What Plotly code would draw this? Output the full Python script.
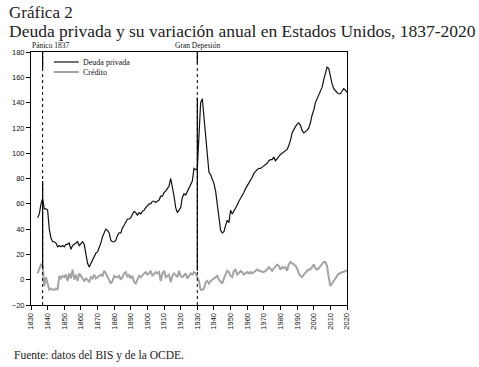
import plotly.graph_objects as go

years = list(range(1834, 2021))

deuda_privada = [
    49, 52, 60, 64, 56, 56, 55, 40, 33, 30,   # 1834-1843
    30, 29, 26, 27, 26, 27, 26, 28, 28, 29,   # 1844-1853
    24, 27, 28, 29, 30, 27, 29, 30, 28, 20,   # 1854-1863
    13, 10, 13, 16, 19, 21, 22, 25, 29, 34,   # 1864-1873
    37, 40, 39, 37, 31, 30, 30, 31, 35, 37,   # 1874-1883
    37, 41, 43, 45, 48, 48, 49, 52, 54, 53,   # 1884-1893
    51, 53, 52, 54, 55, 57, 59, 60, 60, 62,   # 1894-1903
    62, 61, 62, 63, 66, 66, 69, 70, 72, 74,   # 1904-1913
    80, 74, 66, 57, 53, 55, 57, 65, 68, 67,   # 1914-1923
    70, 72, 76, 78, 88, 87, 88, 110, 140, 143,  # 1924-1933
    128, 110, 94, 85, 83, 80, 76, 70, 60, 47,   # 1934-1943
    39, 37, 38, 43, 47, 45, 55, 52, 54, 56,     # 1944-1953
    59, 62, 64, 66, 69, 72, 74, 76, 78, 81,     # 1954-1963
    84, 86, 87, 88, 88, 89, 90, 91, 92, 94,     # 1964-1973
    95, 95, 97, 94, 96, 98, 99, 100, 101, 102,  # 1974-1983
    103, 106, 110, 116, 119, 121, 123, 124, 122, 118,  # 1984-1993
    116, 117, 118, 120, 124, 130, 134, 140, 143, 147,  # 1994-2003
    149, 152, 158, 163, 168, 167, 160, 155, 151, 149,  # 2004-2013
    148, 147, 147, 149, 151, 150, 148,                 # 2014-2020
]

credito = [
    5, 8, 12, 11, -5, 2, -3, -8, -7, -8,      # 1834-1843
    -8, -7, -8, 3, 1, 3, 2, 4, -1, 5,         # 1844-1853
    1, 8, 0, 4, -1, 5, 3, 1, -1, 1,           # 1854-1863
    0, -2, 2, 1, 4, 1, 2, 3, 4, 3,            # 1864-1873
    7, 5, 2, -1, -3, -1, 3, 2, 2, 3,          # 1874-1883
    0, 2, 5, 6, 2, 4, 1, 3, -2, -3,           # 1884-1893
    0, 3, 2, 4, 5, 6, 4, 5, 7, 3,             # 1894-1903
    5, 6, 5, 6, -1, 5, 7, 2, 3, 4,            # 1904-1913
    -2, 3, 5, 3, 2, 7, 3, 2, 4, 5,            # 1914-1923
    1, 3, 5, 4, 6, 5, 2, -1, -8, -8,          # 1924-1933
    -7, -2, -1, -3, -1, 0, 1, 2, 3, 0,        # 1934-1943
    -2, -3, 1, 4, 7, 6, 3, 2, 7, 8,           # 1944-1953
    4, 5, 7, 6, 4, 5, 6, 5, 6, 5,             # 1954-1963
    6, 7, 8, 7, 7, 6, 6, 7, 8, 10,            # 1964-1973
    8, 7, 9, 11, 12, 11, 8, 10, 9, 10,        # 1974-1983
    7, 12, 14, 13, 12, 11, 9, 5, 3, 2,        # 1984-1993
    4, 6, 7, 8, 8, 10, 12, 9, 8, 9,           # 1994-2003
    11, 13, 14, 14, 11, 2, -5, -3, -1, 2,     # 2004-2013
    4, 5, 5, 6, 6, 7, 7,                      # 2014-2020
]

x_ticks = list(range(1830, 2021, 10))
y_ticks = list(range(-20, 181, 20))

series_names = ["Deuda privada", "Crédito"]
series_colors = ["#111111", "#a4a4a4"]
series_widths = [1.2, 2.0]

event_years = [1837, 1930]
event_labels = ["Pánico 1837", "Gran Depesión"]
event_label_left_px = [28, 172]
# solid segments of the marker lines (value ranges), rest is dotted
event_solid = [[(167, 180), (9, 78)], [(171, 180), (7, 144)]]

SERIF = "Liberation Serif"
TICKFONT = dict(family="Liberation Sans Narrow, Liberation Sans", size=7.5, color="#111")

# plot area in pixels
L, T, W, H = 29, 52, 318, 253
FIG_W, FIG_H = 479, 367


def px(x):
    return (x - L) / W


def py(y):
    return 1 - (y - T) / H


fig = go.Figure()
for vals, name, col, wd in zip([deuda_privada, credito], series_names, series_colors, series_widths):
    fig.add_trace(go.Scatter(x=years, y=vals, mode="lines", name=name,
                             line=dict(color=col, width=wd), showlegend=False))

shapes = []
for yr, segs in zip(event_years, event_solid):
    shapes.append(dict(type="line", xref="x", yref="y", x0=yr, x1=yr, y0=-20, y1=180,
                       line=dict(color="black", width=1, dash="dot")))
    for a, b in segs:
        shapes.append(dict(type="line", xref="x", yref="y", x0=yr, x1=yr, y0=a, y1=b,
                           line=dict(color="black", width=1.2)))

# manual legend (compact)
legend_rows_y = [62, 72]
for name, col, wd, ly in zip(series_names, series_colors, series_widths, legend_rows_y):
    shapes.append(dict(type="line", xref="paper", yref="paper", x0=px(52), x1=px(77),
                       y0=py(ly), y1=py(ly), line=dict(color=col, width=wd)))

fig.update_layout(
    width=FIG_W, height=FIG_H,
    margin=dict(l=L, r=FIG_W - L - W, t=T, b=FIG_H - T - H),
    paper_bgcolor="white", plot_bgcolor="white",
    showlegend=False,
    shapes=shapes,
)

for name, ly in zip(series_names, legend_rows_y):
    fig.add_annotation(text=name, xref="paper", yref="paper", x=px(79), y=py(ly),
                       xanchor="left", yanchor="middle", showarrow=False,
                       font=dict(family=SERIF, size=8, color="#111"))

fig.add_annotation(text="Gráfica 2", xref="paper", yref="paper", x=px(5), y=py(12),
                   xanchor="left", yanchor="middle", showarrow=False,
                   font=dict(family=SERIF, size=17, color="#222"))
fig.add_annotation(text="Deuda privada y su variación anual en Estados Unidos, 1837-2020",
                   xref="paper", yref="paper", x=px(5), y=py(31),
                   xanchor="left", yanchor="middle", showarrow=False,
                   font=dict(family=SERIF, size=17.5, color="#222"))
fig.add_annotation(text="Fuente: datos del BIS y de la OCDE.", xref="paper", yref="paper",
                   x=px(10), y=py(355), xanchor="left", yanchor="middle", showarrow=False,
                   font=dict(family=SERIF, size=11.5, color="#222"))
for lab, lx in zip(event_labels, event_label_left_px):
    fig.add_annotation(text=lab, x=px(lx), xref="paper", yref="paper", y=py(46),
                       yanchor="middle", xanchor="left", showarrow=False,
                       font=dict(family=SERIF, size=7.5, color="#111"))

fig.update_xaxes(range=[1830, 2020], tickvals=x_ticks, ticktext=[str(t) for t in x_ticks],
                 tickangle=-90, ticks="outside", ticklen=4, tickcolor="black",
                 showline=True, linecolor="black", linewidth=1, mirror=True,
                 showgrid=False, zeroline=False, tickfont=TICKFONT)
fig.update_yaxes(range=[-20, 180], tickvals=y_ticks, ticks="outside", ticklen=4,
                 tickcolor="black", showline=True, linecolor="black", linewidth=1, mirror=True,
                 showgrid=False, zeroline=False, tickfont=TICKFONT)

fig.write_html("out.html", config={"displayModeBar": False},
               post_script="document.body.style.margin='0';")
